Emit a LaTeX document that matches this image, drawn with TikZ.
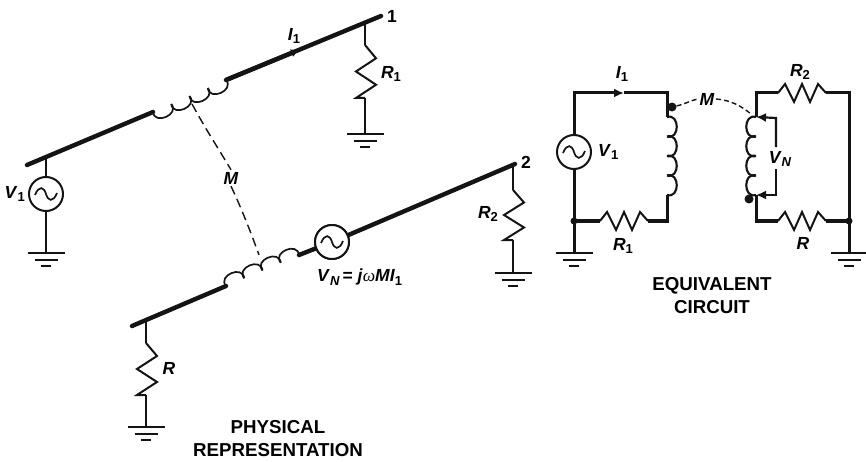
\documentclass[tikz,border=0pt]{standalone}
\usepackage{fontspec}
\setmainfont{Liberation Sans}
\newfontfamily\serfam{Liberation Serif}
\usetikzlibrary{calc,arrows.meta}
\newcommand{\lab}[2]{\textbf{\textit{#1}}\raisebox{-3.5pt}{\bfseries\fontsize{13}{13}\selectfont #2}}
\newcommand{\coilp}[5][coilwire]{%
  \coordinate (cn) at ($(#2)!#5pt!90:(#3)$);
  \foreach \i in {1,...,#4}{%
    \draw[#1] ($(#2)!{(\i-1)/#4}!(#3)$) .. controls ($(#2)!{(\i-1.2)/#4}!(#3)+(cn)-(#2)$) and ($(#2)!{(\i+0.2)/#4}!(#3)+(cn)-(#2)$) .. ($(#2)!{\i/#4}!(#3)$);
  }}
\newcommand{\rzv}[3]{%
  \draw[rwire] (#1) -- ++(#3*11,#2*0.25) -- ++(-#3*20,#2*0.25) -- ++(#3*20,#2*0.25) -- ++(-#3*20,#2*0.25) -- ($(#1)+(0,#2*1)$);}
\newcommand{\rzh}[3]{%
  \draw[rwire] (#1) -- ++(7,-#3) -- ++(9,#3*2) -- ++(8,-#3*2) -- ++(8,#3*2) -- ++(8,-#3*2) -- ++(8,#3*1);}
\tikzset{
  x=1pt,y=-1pt,
  busw/.style={line width=4.4pt,line cap=round,black!92},
  wire/.style={line width=2.5pt,black!92},
  wire2/.style={line width=3pt,black!92},
  thinv/.style={line width=2.2pt,black!92},
  rwire/.style={line width=2pt,line join=miter,black!92},
  coilwire/.style={line width=1.7pt,black!92},
  coilwiret/.style={line width=2.1pt,black!92},
  mdash/.style={line width=1.4pt,dash pattern=on 9pt off 5pt,black!92},
  src/.style={circle,draw=black!92,line width=2pt,minimum size=34pt,inner sep=0pt,fill=white},
  lbl/.style={font=\fontsize{17.5}{19}\selectfont,inner sep=0pt},
  captxt/.style={font=\fontsize{18.7}{23}\selectfont\bfseries,align=center,inner sep=0pt},
  dotn/.style={circle,fill=black!92,minimum size=#1,inner sep=0pt},
  gnd/.pic={\draw[line width=1.9pt,black!92] (-18.5,0) -- (18.5,0) (-11.5,7) -- (11.5,7) (-5,13) -- (5,13);},
  tip/.style={-{Latex[length=10pt,width=9pt]}}
}
\newcommand{\sine}[1]{\draw[line width=1.7pt,black!92] ($(#1)+(-11,1)$) .. controls ($(#1)+(-7,-9)$) and ($(#1)+(-2,-7)$) .. ($(#1)+(0,0)$) .. controls ($(#1)+(2,7)$) and ($(#1)+(7,9)$) .. ($(#1)+(11,-1)$);}
\begin{document}
\begin{tikzpicture}
\useasboundingbox (0,0) rectangle (866,462);
% ---- physical: line 1
\coordinate (a1) at (27,165);
\coordinate (a2) at (153,112);
\coordinate (a3) at (226,80);
\coordinate (a4) at (299,50);
\coordinate (a5) at (381,16);
\coordinate (t1) at (46,157);
\coordinate (t2) at (365,23);
\draw[busw] (a1) -- (a2);
\draw[busw] (a3) -- (a5);
\draw[line width=4.4pt,black!92,-{Latex[length=8pt,width=8.5pt]}] (a3) -- (a4);
\coilp{a2}{a3}{4}{-13}
\node[src] (s1) at (46,194) {};
\sine{s1}
\coordinate (g1) at (46,253);
\draw[wire] (t1) -- (s1);
\draw[wire] (s1) -- (g1);
\pic at (g1) {gnd};
\node[lbl,anchor=east] (lv1) at (25,194) {\lab{V}{1}};
\node[lbl] (li1) at (294,36) {\lab{I}{1}};
\node[lbl] (ln1) at (392,16) {\textbf{1}};
% R1
\coordinate (r1a) at (365,45);
\coordinate (r1b) at (365,98);
\coordinate (g2) at (365,134);
\draw[wire] (t2) -- (r1a);
\rzv{r1a}{53}{1}
\draw[wire] (r1b) -- (g2);
\pic at (g2) {gnd};
\node[lbl] (lr1) at (391,74) {\lab{R}{1}};
% line 2
\coordinate (b1) at (132,326);
\coordinate (b2) at (226,286);
\coordinate (b3) at (299,255);
\coordinate (b5) at (515,164);
\node[src] (s2) at (332,242) {};
\draw[busw] (b1) -- (b2);
\draw[busw] (b3) -- (s2);
\draw[busw] (s2) -- (b5);
\node[src] at (s2) {};
\sine{s2}
\coilp{b2}{b3}{4}{13}
\node[lbl] (ln2) at (526,162) {\textbf{2}};
\node[lbl,anchor=west] (lvn) at (317,277) {\lab{V}{\textit{N}}\,\textbf{=} \textbf{\textit{j}}{\serfam\textit{ω}}\textbf{\textit{MI}}\raisebox{-3.5pt}{\bfseries\fontsize{13}{13}\selectfont 1}};
% R2
\coordinate (t3) at (513,166);
\coordinate (r2a) at (513,190);
\coordinate (r2b) at (513,240);
\coordinate (g3) at (513,273);
\draw[wire] (t3) -- (r2a);
\rzv{r2a}{50}{1}
\draw[wire] (r2b) -- (g3);
\pic at (g3) {gnd};
\node[lbl] (lr2) at (488,214) {\lab{R}{2}};
% R
\coordinate (t4) at (146,322);
\coordinate (r3a) at (146,343);
\coordinate (r3b) at (146,395);
\coordinate (g4) at (146,427);
\draw[wire] (t4) -- (r3a);
\rzv{r3a}{52}{1}
\draw[wire] (r3b) -- (g4);
\pic at (g4) {gnd};
\node[lbl] (lr3) at (169,368) {\textbf{\textit{R}}};
% M
\coordinate (m1) at (192,104);
\coordinate (m2) at (259,255);
\node[lbl,inner sep=2pt] (lm) at (231,178) {\textbf{\textit{M}}};
\draw[mdash] (m1) .. controls (205,128) and (218,148) .. (lm.north);
\draw[mdash] (lm.south) .. controls (240,205) and (250,230) .. (m2);
\node[captxt] (cp) at (278,438.5) {PHYSICAL\\REPRESENTATION};
% ---- equivalent circuit: left loop
\node[src] (s3) at (574,152) {};
\sine{s3}
\coordinate (e1) at (574,93);
\coordinate (e2) at (624,93);
\coordinate (e3) at (667,93);
\coordinate (e4) at (667,117);
\coordinate (e5) at (667,195);
\coordinate (e6) at (667,221);
\coordinate (e7) at (648,221);
\coordinate (e8) at (600,221);
\coordinate (e9) at (574,221);
\coordinate (g5) at (574,253);
\draw[wire2,tip] (s3) -- (e1) -- (e2);
\draw[wire2] (e2) -- (e3) -- (e4);
\coilp[coilwiret]{e4}{e5}{4}{13}
\draw[wire2] (e5) -- (e6) -- (e7);
\rzh{e8}{48}{9}
\draw[wire2] (e8) -- (e9);
\draw[wire2] (s3) -- (e9) -- (g5);
\node[dotn=7pt] (d1) at (e9) {};
\node[dotn=9pt] (d2) at (672,107) {};
\pic at (g5) {gnd};
\node[lbl,anchor=west] (lv2) at (598,152) {\lab{V}{1}};
\node[lbl] (li2) at (622,74) {\lab{I}{1}};
\node[lbl] (lr4) at (623,246) {\lab{R}{1}};
% right loop
\coordinate (f1) at (756,117);
\coordinate (f2) at (756,93);
\coordinate (f3) at (778,93);
\coordinate (f4) at (826,93);
\coordinate (f5) at (849,93);
\coordinate (f6) at (849,221);
\coordinate (f7) at (849,253);
\coordinate (f8) at (826,221);
\coordinate (f9) at (778,221);
\coordinate (f10) at (756,221);
\coordinate (f11) at (756,195);
\draw[wire2] (f1) -- (f2) -- (f3);
\rzh{f3}{48}{9}
\draw[wire2] (f4) -- (f5) -- (f6) -- (f7);
\draw[wire2] (f8) -- (f6);
\rzh{f9}{48}{9}
\draw[wire2] (f9) -- (f10) -- (f11);
\coilp[coilwiret]{f1}{f11}{4}{-13}
\node[dotn=7pt] (d3) at (f6) {};
\node[dotn=9pt] (d4) at (749,199) {};
\pic at (f7) {gnd};
% VN
\coordinate (v1) at (776,118);
\coordinate (v2) at (776,195);
\node[lbl] (lv3) at (780,159) {\lab{V}{\textit{N}}};
\draw[thinv,tip] ($(lv3.north -| v1)+(0,-4)$) -- (v1) -- (f1);
\draw[thinv,tip] ($(lv3.south -| v2)+(0,2)$) -- (v2) -- (f11);
% M arc
\node[lbl,inner sep=1.5pt] (lm2) at (707,99) {\textbf{\textit{M}}};
\draw[mdash,dash pattern=on 5pt off 3pt] (d2) .. controls (685,104) and (692,100) .. (lm2.west);
\draw[mdash,dash pattern=on 5pt off 3pt] (lm2.east) .. controls (730,100) and (742,106) .. (752,115);
\node[lbl] (lr5) at (800,72) {\lab{R}{2}};
\node[lbl] (lr6) at (803,243) {\textbf{\textit{R}}};
\node[captxt] (ce) at (712,296) {EQUIVALENT\\CIRCUIT};
\end{tikzpicture}
\end{document}
